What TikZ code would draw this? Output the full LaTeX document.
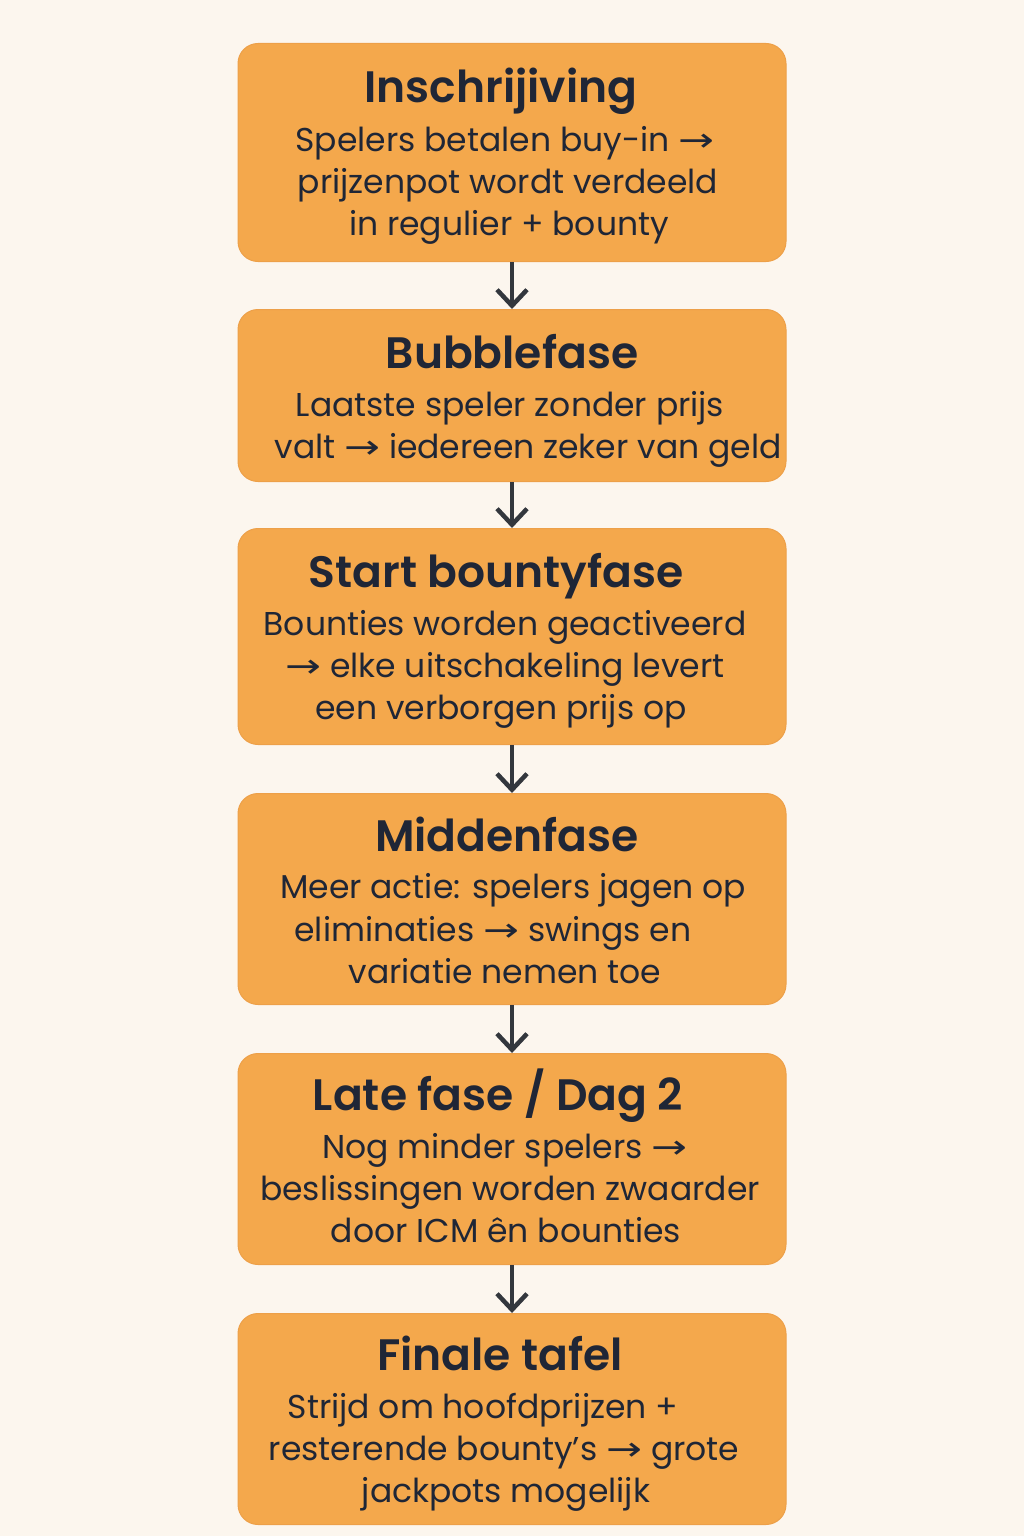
\documentclass[tikz,border=0pt]{standalone}
\usepackage{fontspec}
\usepackage{graphicx}
\setmainfont{Poppins}[BoldFont={Poppins SemiBold}]
\newfontfamily\arrowfont{DejaVu Sans}
\usetikzlibrary{arrows.meta}
\definecolor{bg}{HTML}{FCF6EE}
\definecolor{boxfill}{HTML}{F4A84C}
\definecolor{boxedge}{HTML}{EDA049}
\definecolor{ink}{HTML}{1F2636}
\definecolor{arrowc}{HTML}{33373D}
\newcommand{\rarr}{\scalebox{1.3}[1]{\arrowfont →}}
\tikzset{
  x=1pt,y=-1pt,
  phase/.style={draw=boxedge,line width=1pt,fill=boxfill,rounded corners=20pt,minimum width=548pt,inner sep=0pt,anchor=north},
  ttl/.style={anchor=base,inner sep=0pt,text=ink,font=\fontsize{44}{50}\selectfont\bfseries},
  ln/.style={anchor=base,inner sep=0pt,text=ink,font=\fontsize{33}{42}\selectfont},
  flow/.style={draw=arrowc,line width=4.5pt,-{Straight Barb[length=16pt,width=30pt,line width=4.5pt]}}
}
\begin{document}
\begin{tikzpicture}
\useasboundingbox[fill=bg] (0,0) rectangle (1024,1536);
\node[phase,minimum height=218pt] (b1) at (512,43) {};
\node[phase,minimum height=172pt] (b2) at (512,309) {};
\node[phase,minimum height=216pt] (b3) at (512,528) {};
\node[phase,minimum height=211pt] (b4) at (512,793) {};
\node[phase,minimum height=211pt] (b5) at (512,1053) {};
\node[phase,minimum height=211pt] (b6) at (512,1313) {};
\draw[flow] (b1.south) -- (b2.north);
\draw[flow] (b2.south) -- (b3.north);
\draw[flow] (b3.south) -- (b4.north);
\draw[flow] (b4.south) -- (b5.north);
\draw[flow] (b5.south) -- (b6.north);
% box 1
\node[ttl] (t1) at (501,103) {Inschrijiving};
\node[ln] (d1a) at (505,151) {Spelers betalen buy-in \rarr};
\node[ln] (d1b) at (508,193) {prijzenpot wordt verdeeld};
\node[ln] (d1c) at (509,235) {in regulier + bounty};
% box 2
\node[ttl] (t2) at (512,368) {Bubblefase};
\node[ln] (d2a) at (510,416) {Laatste speler zonder prijs};
\node[ln] (d2b) at (528,458) {valt \rarr{} iedereen zeker van geld};
% box 3
\node[ttl] (t3) at (496,587) {Start bountyfase};
\node[ln] (d3a) at (505,635) {Bounties worden geactiveerd};
\node[ln] (d3b) at (505,677) {\rarr{} elke uitschakeling levert};
\node[ln] (d3c) at (501,719) {een verborgen prijs op};
% box 4
\node[ttl] (t4) at (507,851) {Middenfase};
\node[ln] (d4a) at (513,898) {Meer actie: spelers jagen op};
\node[ln] (d4b) at (493,941) {eliminaties \rarr{} swings en};
\node[ln] (d4c) at (505,983) {variatie nemen toe};
% box 5
\node[ttl] (t5) at (498,1110) {Late fase / Dag 2};
\node[ln] (d5a) at (505,1158) {Nog minder spelers \rarr};
\node[ln] (d5b) at (510,1200) {beslissingen worden zwaarder};
\node[ln] (d5c) at (506,1242) {door ICM ên bounties};
% box 6
\node[ttl] (t6) at (500,1370) {Finale tafel};
\node[ln] (d6a) at (483,1418) {Strijd om hoofdprijzen +};
\node[ln] (d6b) at (504,1460) {resterende bounty’s \rarr{} grote};
\node[ln] (d6c) at (506,1502) {jackpots mogelijk};
\end{tikzpicture}
\end{document}
